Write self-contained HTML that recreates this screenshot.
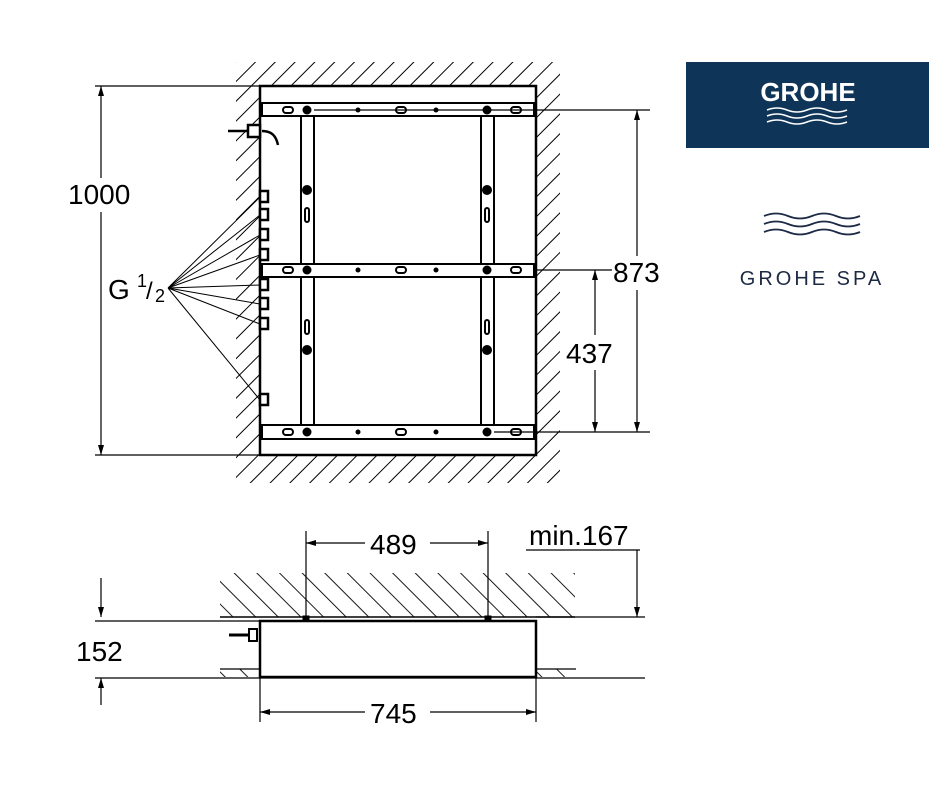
<!DOCTYPE html>
<html><head><style>body{margin:0;background:#fff}svg{display:block}</style></head><body>
<svg width="930" height="786" viewBox="0 0 930 786" xmlns="http://www.w3.org/2000/svg" font-family="Liberation Sans, sans-serif">
<defs>
<pattern id="h" patternUnits="userSpaceOnUse" width="14" height="14" patternTransform="rotate(45)"><line x1="0" y1="0" x2="0" y2="14" stroke="#000" stroke-width="2"/></pattern>
<pattern id="h2" patternUnits="userSpaceOnUse" width="16" height="16" patternTransform="rotate(-45)"><line x1="0" y1="0" x2="0" y2="16" stroke="#000" stroke-width="1.8"/></pattern>
<marker id="a" viewBox="0 0 10 6" refX="10" refY="3" markerWidth="12" markerHeight="6" markerUnits="userSpaceOnUse" orient="auto-start-reverse"><path d="M0,0L10,3L0,6z"/></marker>
</defs>
<g stroke="#000" fill="none">
<rect x="236" y="62" width="324" height="24" fill="url(#h)" stroke="none"/>
<rect x="236" y="86" width="24" height="397" fill="url(#h)" stroke="none"/>
<rect x="536" y="86" width="24" height="397" fill="url(#h)" stroke="none"/>
<rect x="260" y="455" width="276" height="28" fill="url(#h)" stroke="none"/>
<rect x="260" y="86" width="276" height="369" fill="#fff" stroke-width="2.5"/>
<g stroke-width="2">
<rect x="262" y="103" width="272" height="13"/>
<rect x="262" y="264" width="272" height="13"/>
<rect x="262" y="425" width="272" height="14"/>
<rect x="301" y="116" width="13" height="148"/>
<rect x="481" y="116" width="13" height="148"/>
<rect x="301" y="277" width="13" height="148"/>
<rect x="481" y="277" width="13" height="148"/>
</g>
<g fill="#000" stroke="none">
<circle cx="307" cy="110" r="4.5"/><circle cx="487" cy="110" r="4.5"/><circle cx="358" cy="110" r="2.5"/><circle cx="436" cy="110" r="2.5"/>
<circle cx="307" cy="270" r="4.5"/><circle cx="487" cy="270" r="4.5"/><circle cx="358" cy="270" r="2.5"/><circle cx="436" cy="270" r="2.5"/>
<circle cx="307" cy="432" r="4.5"/><circle cx="487" cy="432" r="4.5"/><circle cx="358" cy="432" r="2.5"/><circle cx="436" cy="432" r="2.5"/>
<circle cx="307" cy="190" r="5"/><circle cx="487" cy="190" r="5"/><circle cx="307" cy="350" r="5"/><circle cx="487" cy="350" r="5"/>
</g>
<g stroke-width="2">
<rect x="283" y="107" width="10" height="6" rx="3"/><rect x="396" y="107" width="10" height="6" rx="3"/><rect x="511" y="107" width="10" height="6" rx="3"/>
<rect x="283" y="267" width="10" height="6" rx="3"/><rect x="396" y="267" width="10" height="6" rx="3"/><rect x="511" y="267" width="10" height="6" rx="3"/>
<rect x="283" y="429" width="10" height="6" rx="3"/><rect x="396" y="429" width="10" height="6" rx="3"/><rect x="511" y="429" width="10" height="6" rx="3"/>
<rect x="305" y="208" width="4" height="14" rx="2"/><rect x="485" y="208" width="4" height="14" rx="2"/>
<rect x="305" y="320" width="4" height="14" rx="2"/><rect x="485" y="320" width="4" height="14" rx="2"/>
</g>
<line x1="314" y1="110" x2="650" y2="110" stroke-width="1.2"/>
<line x1="494" y1="432" x2="650" y2="432" stroke-width="1.2"/>
<path d="M228 131H248M262 131C272 131 276 136 278 145" stroke-width="2.5"/>
<rect x="248" y="125" width="12" height="12" stroke-width="2.5" fill="#fff"/>
<g stroke-width="2.5" fill="#fff">
<rect x="260" y="191" width="8" height="11"/><rect x="260" y="209" width="8" height="11"/><rect x="260" y="229" width="8" height="11"/><rect x="260" y="249" width="8" height="11"/>
<rect x="260" y="279" width="8" height="11"/><rect x="260" y="298" width="8" height="11"/><rect x="260" y="318" width="8" height="11"/><rect x="260" y="394" width="8" height="11"/>
</g>
<g stroke-width="1">
<path d="M168 288L260 197M168 288L260 215M168 288L260 235M168 288L260 255M168 288L260 285M168 288L260 304M168 288L260 324M168 288L260 400"/>
</g>
<g stroke-width="1.2">
<line x1="95" y1="86" x2="260" y2="86"/><line x1="95" y1="455" x2="260" y2="455"/>
<line x1="101" y1="86" x2="101" y2="178" marker-start="url(#a)"/><line x1="101" y1="212" x2="101" y2="455" marker-end="url(#a)"/>
<line x1="536" y1="270" x2="612" y2="270"/>
<line x1="637" y1="110" x2="637" y2="256" marker-start="url(#a)"/><line x1="637" y1="290" x2="637" y2="432" marker-end="url(#a)"/>
<line x1="595" y1="270" x2="595" y2="335" marker-start="url(#a)"/><line x1="595" y1="370" x2="595" y2="432" marker-end="url(#a)"/>
</g>
<rect x="220" y="573" width="355" height="44" fill="url(#h2)" stroke="none"/>
<line x1="220" y1="617" x2="575" y2="617" stroke-width="1.5"/>
<rect x="220" y="669" width="40" height="8" fill="url(#h2)" stroke="none"/>
<rect x="536" y="669" width="40" height="8" fill="url(#h2)" stroke="none"/>
<line x1="220" y1="669" x2="260" y2="669" stroke-width="1.2"/><line x1="536" y1="669" x2="576" y2="669" stroke-width="1.2"/>
<line x1="95" y1="621" x2="260" y2="621" stroke-width="1.2"/><line x1="536" y1="617" x2="645" y2="617" stroke-width="1.2"/>
<line x1="95" y1="678" x2="645" y2="678" stroke-width="1.2"/>
<rect x="260" y="621" width="276" height="56" fill="#fff" stroke-width="2.5"/>
<rect x="303" y="616" width="6" height="5" fill="#000"/><rect x="485" y="616" width="6" height="5" fill="#000"/>
<path d="M229 635H249" stroke-width="3"/><rect x="249" y="629" width="8" height="12" stroke-width="2" fill="#fff"/>
<g stroke-width="1.2">
<line x1="306" y1="531" x2="306" y2="617"/><line x1="488" y1="531" x2="488" y2="617"/>
<line x1="306" y1="543" x2="365" y2="543" marker-start="url(#a)"/><line x1="430" y1="543" x2="488" y2="543" marker-end="url(#a)"/>
<line x1="526" y1="550" x2="640" y2="550"/><line x1="637" y1="550" x2="637" y2="617" marker-end="url(#a)"/>
<line x1="101" y1="578" x2="101" y2="617" marker-end="url(#a)"/><line x1="101" y1="705" x2="101" y2="678" marker-end="url(#a)"/>
<line x1="260" y1="678" x2="260" y2="722"/><line x1="536" y1="678" x2="536" y2="722"/>
<line x1="260" y1="712" x2="365" y2="712" marker-start="url(#a)"/><line x1="430" y1="712" x2="536" y2="712" marker-end="url(#a)"/>
</g>
</g>
<g font-size="28" fill="#000">
<text x="68" y="204">1000</text>
<text x="108" y="299">G</text><text x="137" y="287" font-size="18">1</text><text x="146" y="299" font-size="24">/</text><text x="155" y="302" font-size="18">2</text>
<text x="613" y="282">873</text>
<text x="566" y="363">437</text>
<text x="370" y="554">489</text>
<text x="529" y="545">min.167</text>
<text x="76" y="661">152</text>
<text x="370" y="723">745</text>
</g>
<rect x="686" y="62" width="243" height="86" fill="#0e3457"/>
<text x="808" y="101" text-anchor="middle" font-size="26" font-weight="bold" fill="#fff">GROHE</text>
<g stroke="#fff" fill="none" stroke-width="1.5">
<path d="M767 110q10-4 20 0t20 0t20 0t20 0"/><path d="M767 116q10-4 20 0t20 0t20 0t20 0"/><path d="M767 122q10-4 20 0t20 0t20 0t20 0"/>
</g>
<g stroke="#1d2a44" fill="none" stroke-width="1.8">
<path d="M764 216q12-5 24 0t24 0t24 0t24 0"/><path d="M764 224q12-5 24 0t24 0t24 0t24 0"/><path d="M764 232q12-5 24 0t24 0t24 0t24 0"/>
</g>
<text x="812" y="285" text-anchor="middle" font-size="20" letter-spacing="3" fill="#1d2a44">GROHE SPA</text>
</svg>
</body></html>
